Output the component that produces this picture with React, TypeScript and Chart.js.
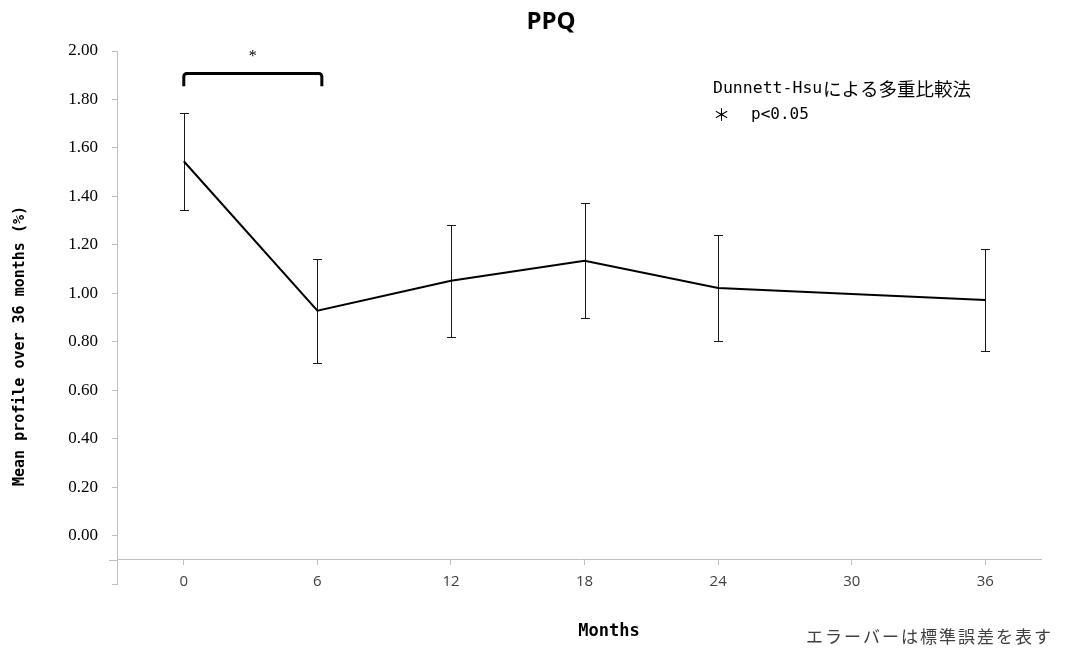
import React, { useEffect, useRef } from "react";
import { Chart, registerables } from "chart.js";

Chart.register(...registerables);

// ---- data ----
const months = [0, 6, 12, 18, 24, 36];
const means = [1.545, 0.928, 1.052, 1.134, 1.022, 0.972];
const stdErrors = [0.2, 0.215, 0.231, 0.237, 0.219, 0.209];
const xTickValues = [0, 6, 12, 18, 24, 30, 36];
const yTickValues = [-0.2, 0, 0.2, 0.4, 0.6, 0.8, 1.0, 1.2, 1.4, 1.6, 1.8, 2.0];
const chartTitle = "PPQ";
const xTitle = "Months";
const yTitle = "Mean profile over 36 months (%)";
const noteLatin = "Dunnett-Hsu";
const noteJapanese = "による多重比較法";
const noteMark = "＊";
const noteP = "p<0.05";
const footnote = "エラーバーは標準誤差を表す";
const sigPair = [0, 6.2];
const sigLevels = [1.907, 1.854, 1.99];
const sigMark = "*";

const overlayPlugin = {
  id: "overlay",
  beforeDatasetsDraw(chart: any) {
    const { ctx, scales } = chart;
    const x = scales.x;
    const y = scales.y;
    ctx.save();
    // error bars
    ctx.strokeStyle = "#1a1a1a";
    ctx.lineWidth = 1;
    months.forEach((m, i) => {
      const px = Math.round(x.getPixelForValue(m)) + 0.5;
      const top = Math.round(y.getPixelForValue(means[i] + stdErrors[i])) + 0.5;
      const bot = Math.round(y.getPixelForValue(means[i] - stdErrors[i])) + 0.5;
      ctx.beginPath();
      ctx.moveTo(px, top);
      ctx.lineTo(px, bot);
      ctx.moveTo(px - 4.5, top);
      ctx.lineTo(px + 4.5, top);
      ctx.moveTo(px - 4.5, bot);
      ctx.lineTo(px + 4.5, bot);
      ctx.stroke();
    });
    // x axis stub left of y axis
    const ay = Math.round(y.getPixelForValue(-0.1)) + 0.5;
    ctx.strokeStyle = "#bfbfbf";
    ctx.beginPath();
    ctx.moveTo(chart.chartArea.left - 8, ay);
    ctx.lineTo(chart.chartArea.left, ay);
    ctx.stroke();
    ctx.restore();
  },
  afterDraw(chart: any) {
    const { ctx, scales } = chart;
    const x = scales.x;
    const y = scales.y;
    ctx.save();
    // significance bracket
    const x0 = x.getPixelForValue(sigPair[0]);
    const x1 = x.getPixelForValue(sigPair[1]);
    const yt = y.getPixelForValue(sigLevels[0]);
    const yb = y.getPixelForValue(sigLevels[1]);
    ctx.strokeStyle = "#000";
    ctx.lineWidth = 3;
    ctx.lineJoin = "round";
    ctx.lineCap = "butt";
    ctx.beginPath();
    ctx.moveTo(x0, yb);
    ctx.arcTo(x0, yt, x1, yt, 3);
    ctx.arcTo(x1, yt, x1, yb, 3);
    ctx.lineTo(x1, yb);
    ctx.stroke();
    ctx.fillStyle = "#000";
    ctx.textAlign = "center";
    ctx.textBaseline = "middle";
    ctx.font = "16px 'Liberation Serif'";
    ctx.fillText(sigMark, x.getPixelForValue((sigPair[0] + sigPair[1]) / 2), y.getPixelForValue(sigLevels[2]) + 3);

    // title
    ctx.font = "bold 24px 'Open Sans'";
    ctx.fillText(chartTitle, 551, 22);

    // note
    ctx.textAlign = "left";
    ctx.font = "16.5px 'DejaVu Sans Mono'";
    ctx.fillText(noteLatin, 713, 89);
    ctx.font = "18.5px 'Noto Sans CJK JP'";
    ctx.fillText(noteJapanese, 823, 89);
    ctx.font = "17px 'Noto Sans CJK JP'";
    ctx.fillText(noteMark, 713, 115);
    ctx.font = "16px 'DejaVu Sans Mono'";
    ctx.fillText(noteP, 751, 115);

    // axis titles
    ctx.textAlign = "center";
    ctx.font = "bold 17px 'DejaVu Sans Mono'";
    ctx.fillText(xTitle, 609, 632);
    ctx.save();
    ctx.translate(20, 346);
    ctx.rotate(-Math.PI / 2);
    ctx.font = "bold 15px 'DejaVu Sans Mono'";
    ctx.fillText(yTitle, 0, 0);
    ctx.restore();

    // footnote
    ctx.fillStyle = "#404040";
    ctx.textAlign = "left";
    ctx.font = "17px 'Noto Sans CJK JP'";
    (ctx as any).letterSpacing = "2px";
    ctx.fillText(footnote, 806, 637);
    ctx.restore();
  },
};

export default function App() {
  const canvasRef = useRef<HTMLCanvasElement | null>(null);

  useEffect(() => {
    if (!canvasRef.current) return;
    const chart = new Chart(canvasRef.current, {
      type: "line",
      data: {
        datasets: [
          {
            data: months.map((m, i) => ({ x: m, y: means[i] })),
            borderColor: "#000",
            borderWidth: 2,
            pointRadius: 0,
            tension: 0,
            fill: false,
          },
        ],
      },
      options: {
        responsive: false,
        animation: false,
        layout: { padding: { top: 51, right: 26, left: 0, bottom: 66 } },
        plugins: {
          legend: { display: false },
          tooltip: { enabled: false },
          title: { display: false },
        },
        scales: {
          x: {
            type: "linear",
            min: -3,
            max: 38.5,
            position: { y: -0.1 } as any,
            afterBuildTicks: (s: any) => {
              s.ticks = xTickValues.map((v) => ({ value: v }));
            },
            grid: {
              drawOnChartArea: false,
              drawTicks: true,
              tickLength: 5,
              color: "#bfbfbf",
              lineWidth: 1,
            },
            border: { color: "#bfbfbf", width: 1 },
            ticks: {
              font: { family: "'Open Sans'", size: 15 },
              color: "#404040",
              padding: 8,
              maxRotation: 0,
              autoSkip: false,
              callback: (v: any) => String(v),
            },
          },
          y: {
            type: "linear",
            min: -0.2,
            max: 2.0,
            position: "left",
            afterBuildTicks: (s: any) => {
              s.ticks = yTickValues.map((v) => ({ value: v }));
            },
            afterFit: (s: any) => {
              s.width = 117;
            },
            grid: {
              drawOnChartArea: false,
              drawTicks: true,
              tickLength: 5,
              color: "#bfbfbf",
              lineWidth: 1,
            },
            border: { color: "#bfbfbf", width: 1 },
            ticks: {
              font: { family: "'Liberation Serif'", size: 17 },
              color: "#000",
              padding: 14,
              autoSkip: false,
              callback: (v: any) => (Number(v) < -0.001 ? "" : Number(v).toFixed(2)),
            },
          },
        },
      } as any,
      plugins: [overlayPlugin],
    });
    return () => chart.destroy();
  }, []);

  return (
    <div style={{ position: "fixed", left: 0, top: 0, width: 1067, height: 650, background: "#fff" }}>
      <canvas ref={canvasRef} width={1067} height={650} style={{ display: "block" }} />
    </div>
  );
}
